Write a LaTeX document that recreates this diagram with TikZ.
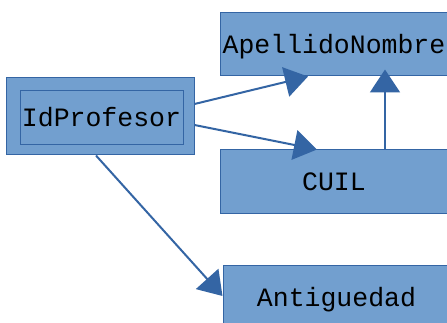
\documentclass[tikz,border=0pt]{standalone}
\usepackage{fontspec}
\setmonofont{Liberation Mono}
\usetikzlibrary{arrows.meta}
\definecolor{boxfill}{HTML}{729FCF}
\definecolor{boxline}{HTML}{3465A4}
\begin{document}
\begin{tikzpicture}[x=1pt,y=-1pt,
  box/.style={draw=boxline,fill=boxfill,line width=1pt,rectangle,inner sep=0pt,
    font=\ttfamily\fontsize{26.5}{26.5}\selectfont,text height=17.5pt,text depth=0pt},
  conn/.style={draw=boxline,line width=2pt,-{Triangle[length=23pt,width=30pt]}}]
\useasboundingbox (0,0) rectangle (447,323);
\clip (0,0) rectangle (447,323);
\node[box,minimum width=188pt,minimum height=77pt] (idout) at (100,116.5) {};
\node[box,minimum width=163pt,minimum height=54pt] (idin) at (101.5,118) {IdProfesor};
\node[box,minimum width=228pt,minimum height=63pt] (ape) at (334,44.5) {ApellidoNombre};
\node[box,minimum width=228pt,minimum height=64pt] (cuil) at (334,182) {CUIL};
\node[box,minimum width=227pt,minimum height=65pt] (ant) at (336.5,297.5) {Antiguedad};
\draw[conn] ([yshift=12.5pt]idout.east) -- ([xshift=-26pt]ape.south);
\draw[conn] ([yshift=-8.5pt]idout.east) -- ([xshift=-17pt]cuil.north);
\draw[conn] ([xshift=-4pt]idout.south) -- ([yshift=1.5pt]ant.west);
\draw[conn] ([xshift=51pt]cuil.north) -- ([xshift=51pt,yshift=7pt]ape.south);
\end{tikzpicture}
\end{document}
